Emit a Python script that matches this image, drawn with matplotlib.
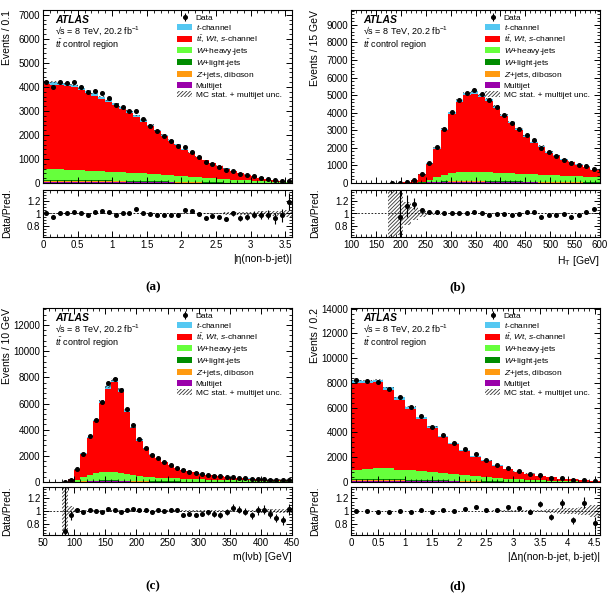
import numpy as np
import matplotlib.pyplot as plt
import matplotlib.patches as mpatches
from matplotlib.ticker import MultipleLocator, AutoMinorLocator, FormatStrFormatter

plt.rcParams['font.family'] = ['Liberation Sans', 'DejaVu Sans']
plt.rcParams['mathtext.fontset'] = 'custom'
plt.rcParams['mathtext.rm'] = 'Liberation Sans'
plt.rcParams['mathtext.it'] = 'Liberation Sans:italic'
plt.rcParams['mathtext.bf'] = 'Liberation Sans:bold'
plt.rcParams['hatch.linewidth'] = 0.6

# ---- (a) |eta(non-b-jet)|, 0.1 bins
edges_a = np.arange(0, 3.61, 0.1)
data_a = [4220, 3990, 4210, 4170, 4200, 4010, 3770, 3840, 3740, 3530, 3250, 3160, 3000, 3010,
          2650, 2390, 2160, 1960, 1760, 1560, 1505, 1310, 1090, 890, 805, 675, 555, 510, 390,
          325, 275, 220, 170, 120, 87, 71]
ratio_a = [1.00, 0.95, 1.01, 1.01, 1.03, 1.01, 0.98, 1.03, 1.04, 1.02, 0.98, 1.00, 1.00, 1.07,
           1.01, 0.99, 0.98, 0.98, 0.98, 0.97, 1.06, 1.04, 0.99, 0.92, 0.96, 0.94, 0.91, 1.00,
           0.93, 0.94, 0.98, 0.98, 0.98, 0.92, 0.97, 1.19]
unc_a = [0.01] * 24 + [0.012, 0.015, 0.02, 0.02, 0.025, 0.03, 0.03, 0.035, 0.04, 0.04, 0.045, 0.05]
tch_a = [105, 105, 104, 103, 102, 99, 96, 93, 90, 86, 83, 79, 75, 70, 66, 60, 55, 50, 45, 40,
         36, 31, 27, 24, 21, 18, 15, 13, 11, 9, 7, 6, 4, 3, 2, 2]
wheavy_a = [450, 445, 440, 430, 420, 410, 400, 390, 380, 370, 360, 350, 340, 330, 320, 305, 290,
            275, 260, 245, 230, 215, 200, 185, 170, 155, 140, 125, 110, 95, 80, 70, 60, 50, 40, 30]
wlight_a = [45, 45, 44, 44, 43, 42, 41, 40, 38, 37, 35, 34, 32, 30, 28, 26, 24, 22, 20, 18, 16,
            14, 12, 11, 9, 8, 7, 6, 5, 4, 3, 3, 2, 2, 1, 1]
zjets_a = [35, 35, 35, 34, 34, 33, 32, 31, 30, 29, 28, 27, 25, 24, 22, 21, 19, 17, 16, 14, 13,
           11, 10, 8, 7, 6, 5, 4, 4, 3, 2, 2, 2, 1, 1, 1]
multi_a = [50, 50, 49, 49, 48, 47, 45, 44, 42, 40, 38, 36, 34, 32, 30, 28, 26, 24, 22, 20, 18,
           16, 14, 12, 10, 9, 8, 7, 6, 5, 4, 3, 2, 2, 1, 1]

# ---- (b) H_T, 15 GeV bins
edges_b = np.arange(100, 611, 15)
data_b = [0, 0, 0, 0, 0, 0, 4, 40, 190, 530, 1140, 2050, 3080, 4030, 4750, 5130, 5320, 5060,
          4710, 4330, 3860, 3420, 3060, 2760, 2430, 2020, 1750, 1540, 1330, 1140, 1045, 950, 820, 760]
ratio_b = [np.nan] * 6 + [0.95, 1.12, 1.16, 1.05, 1.02, 1.02, 1.00, 1.00, 1.00, 1.00, 1.02, 1.01,
                          0.98, 0.99, 0.99, 0.98, 0.99, 1.02, 1.03, 0.95, 0.98, 0.98, 0.99, 0.94,
                          0.98, 1.02, 1.07, 1.00]
unc_b = [0, 0, 0, 0, 0, 1.0, 0.35, 0.18, 0.1, 0.05, 0.03, 0.02] + [0.01] * 18 + [0.012] * 4
tch_b = [0, 0, 0, 0, 0, 0, 0, 1, 5, 15, 30, 55, 80, 100, 115, 125, 130, 125, 118, 110, 100, 90,
         80, 72, 64, 56, 50, 44, 38, 34, 30, 27, 24, 22]
wheavy_b = [0, 0, 0, 0, 0, 0, 0, 3, 15, 40, 120, 230, 350, 450, 500, 510, 500, 490, 500, 480,
            470, 455, 440, 425, 410, 400, 385, 370, 355, 345, 335, 320, 310, 300]
wlight_b = [0, 0, 0, 0, 0, 0, 0, 0, 2, 6, 12, 20, 30, 38, 42, 44, 44, 43, 41, 39, 36, 33, 30, 28,
            26, 24, 22, 20, 18, 16, 15, 14, 13, 12]
zjets_b = [0, 0, 0, 0, 0, 0, 0, 0, 1, 4, 9, 15, 22, 28, 32, 34, 35, 34, 33, 31, 29, 27, 25, 23,
           21, 19, 17, 16, 15, 14, 13, 12, 11, 10]
multi_b = [0, 0, 0, 0, 0, 0, 1, 3, 8, 20, 35, 50, 60, 65, 65, 62, 58, 54, 50, 46, 42, 38, 35, 32,
           29, 26, 24, 22, 20, 18, 16, 15, 14, 13]

# ---- (c) m(lvb), 10 GeV bins
edges_c = np.arange(50, 451, 10)
data_c = [0, 0, 0, 1, 180, 970, 2170, 3500, 4770, 6120, 7530, 7910, 7020, 5610, 4340, 3320, 2630,
          2090, 1860, 1530, 1330, 1100, 890, 790, 710, 640, 540, 485, 430, 380, 360, 305, 280,
          255, 230, 205, 180, 170, 150, 140]
ratio_c = [np.nan] * 3 + [0.69, 0.93, 1.02, 0.98, 1.01, 1.00, 0.99, 1.03, 1.01, 0.99, 1.02, 1.03,
                          1.02, 1.02, 0.98, 1.01, 1.00, 1.02, 1.01, 0.94, 0.95, 0.94, 0.96, 0.98,
                          0.95, 0.94, 0.98, 1.05, 1.02, 0.99, 0.93, 1.01, 1.02, 0.96, 0.89, 0.85, 1.03]
unc_c = [0, 0, 0, 1.0, 0.08, 0.03] + [0.012] * 24 + [0.018, 0.02, 0.02, 0.022, 0.025, 0.025,
                                                    0.028, 0.03, 0.03, 0.03]
tch_c = [0, 0, 0, 0, 2, 15, 40, 70, 110, 150, 190, 200, 180, 140, 110, 85, 65, 52, 44, 38, 33,
         28, 24, 21, 19, 17, 15, 13, 12, 11, 10, 9, 8, 7, 7, 6, 6, 5, 5, 4]
wheavy_c = [0, 0, 0, 0, 20, 150, 330, 480, 580, 640, 660, 640, 590, 510, 440, 380, 340, 310, 290,
            270, 250, 230, 210, 195, 180, 170, 160, 150, 140, 130, 125, 120, 110, 100, 95, 90,
            85, 80, 75, 70]
wlight_c = [0, 0, 0, 0, 1, 6, 14, 22, 28, 32, 34, 33, 30, 26, 22, 19, 17, 15, 14, 13, 12, 11, 10,
            9, 8, 8, 7, 7, 6, 6, 5, 5, 5, 4, 4, 4, 4, 3, 3, 3]
zjets_c = [0, 0, 0, 0, 1, 5, 12, 18, 24, 28, 30, 29, 26, 22, 19, 16, 14, 12, 11, 10, 9, 9, 8, 8,
           7, 7, 6, 6, 5, 5, 5, 4, 4, 4, 4, 3, 3, 3, 3, 3]
multi_c = [0, 0, 0, 0, 3, 15, 35, 50, 60, 65, 65, 60, 52, 44, 38, 33, 29, 26, 24, 22, 20, 19, 18,
           17, 16, 15, 14, 13, 12, 11, 10, 10, 9, 9, 8, 8, 7, 7, 7, 6]

# ---- (d) |delta eta(non-b-jet, b-jet)|, 0.2 bins
edges_d = np.arange(0, 4.61, 0.2)
data_d = [8220, 8190, 8110, 7490, 6840, 6030, 5350, 4460, 3780, 3160, 2650, 2240, 1760, 1380,
          1135, 890, 675, 570, 350, 300, 190, 160, 80]
ratio_d = [1.00, 1.00, 0.98, 0.98, 1.00, 0.99, 1.02, 0.99, 1.02, 1.00, 1.03, 1.07, 1.01, 1.02,
           1.07, 1.05, 0.99, 1.11, 0.90, 1.12, 0.85, 1.13, 0.81]
unc_d = [0.006] * 13 + [0.008, 0.01, 0.012, 0.015, 0.02, 0.03, 0.04, 0.05, 0.06, 0.1]
tch_d = [190, 200, 205, 200, 185, 165, 145, 120, 100, 80, 65, 52, 40, 32, 25, 19, 14, 10, 7, 5, 4, 3, 2]
wheavy_d = [760, 830, 900, 870, 800, 750, 700, 660, 620, 570, 500, 430, 360, 290, 240, 190, 145,
            115, 80, 60, 40, 30, 20]
wlight_d = [80, 85, 85, 82, 76, 70, 63, 56, 48, 40, 33, 27, 21, 16, 12, 9, 7, 5, 4, 3, 2, 2, 1]
zjets_d = [60, 62, 62, 60, 56, 51, 46, 41, 36, 30, 25, 20, 16, 12, 9, 7, 5, 4, 3, 2, 2, 1, 1]
multi_d = [80, 82, 82, 80, 75, 69, 62, 55, 48, 41, 34, 28, 22, 17, 13, 10, 7, 5, 4, 3, 2, 1, 1]

colors = {'multi': '#9a00aa', 'zjets': '#ff9a10', 'wlight': '#008c00',
          'wheavy': '#66ff3c', 'ttbar': '#ff0000', 'tch': '#55c8f2'}
band_color = '#333333'
HATCH = '/////////'


def style_axis(ax):
    ax.tick_params(which='both', direction='in', top=True, right=True, labelsize=7, pad=2)
    ax.tick_params(which='major', length=4.5, width=0.7)
    ax.tick_params(which='minor', length=2.3, width=0.6)
    for s in ax.spines.values():
        s.set_linewidth(0.8)


def panel(rect_main, rect_ratio, edges, data, ratio, unc, tch, wheavy, wlight, zjets, multi,
          xlim, ymax, ymajor, xmajor, xlabel, ylabel, caption, cap_xy):
    edges = np.asarray(edges, float)
    centers = 0.5 * (edges[1:] + edges[:-1])
    data = np.asarray(data, float)
    ratio = np.asarray(ratio, float)
    unc = np.asarray(unc, float)
    tch, wheavy, wlight, zjets, multi = [np.asarray(v, float) for v in (tch, wheavy, wlight, zjets, multi)]
    mc = np.where(np.isfinite(ratio), data / ratio, 0.0)
    ttbar = np.clip(mc - (tch + wheavy + wlight + zjets + multi), 0, None)

    ax = fig.add_axes(rect_main)
    ax.hist([centers] * 6, bins=edges, weights=[multi, zjets, wlight, wheavy, ttbar, tch],
            stacked=True, histtype='stepfilled', linewidth=0,
            color=[colors['multi'], colors['zjets'], colors['wlight'], colors['wheavy'],
                   colors['ttbar'], colors['tch']])
    ax.stairs(mc * (1 + unc), edges, baseline=mc * (1 - unc), fill=True, hatch=HATCH,
              facecolor='none', edgecolor=band_color, linewidth=0)
    m = unc > 0
    eb = ax.errorbar(centers[m], data[m], yerr=np.sqrt(data[m]), fmt='o', color='k', ms=2.6,
                     elinewidth=0.8, capsize=0)
    ax.set_xlim(*xlim)
    ax.set_ylim(0, ymax)
    ax.xaxis.set_major_locator(MultipleLocator(xmajor))
    ax.xaxis.set_minor_locator(AutoMinorLocator(5))
    ax.yaxis.set_major_locator(MultipleLocator(ymajor))
    ax.yaxis.set_minor_locator(AutoMinorLocator(5))
    ax.tick_params(labelbottom=False)
    style_axis(ax)
    ax.set_ylabel(ylabel, fontsize=7.5, loc='top')
    ax.yaxis.set_label_coords(-0.125, 1.0)

    ax.text(0.048, 0.94, 'ATLAS', transform=ax.transAxes, fontsize=7.5, fontweight='bold',
            fontstyle='italic', va='center')
    ax.text(0.048, 0.878, '√s = 8 TeV, 20.2 fb$^{-1}$', transform=ax.transAxes,
            fontsize=6.5, va='center')
    ax.text(0.048, 0.802, r'$t\bar{t}$ control region', transform=ax.transAxes,
            fontsize=6.5, va='center')

    handles = [eb,
               mpatches.Patch(facecolor=colors['tch']),
               mpatches.Patch(facecolor=colors['ttbar']),
               mpatches.Patch(facecolor=colors['wheavy']),
               mpatches.Patch(facecolor=colors['wlight']),
               mpatches.Patch(facecolor=colors['zjets']),
               mpatches.Patch(facecolor=colors['multi']),
               mpatches.Patch(facecolor='white', hatch=HATCH, edgecolor=band_color, linewidth=0)]
    labels = ['Data', r'$t$-channel', r'$t\bar{t}$, $Wt$, $s$-channel', r'$W$+heavy-jets',
              r'$W$+light-jets', r'$Z$+jets, diboson', 'Multijet', 'MC stat. + multijet unc.']
    ax.legend(handles, labels, loc='upper left', bbox_to_anchor=(0.54, 0.975), frameon=False,
              fontsize=6, handlelength=1.7, handleheight=0.75, labelspacing=0.12,
              handletextpad=0.5, borderpad=0, borderaxespad=0)

    axr = fig.add_axes(rect_ratio)
    axr.stairs(1 + unc, edges, baseline=1 - unc, fill=True, hatch=HATCH, facecolor='none',
               edgecolor=band_color, linewidth=0)
    axr.axhline(1, color='k', ls=(0, (2, 2)), lw=0.6)
    r = (data > 0) & np.isfinite(ratio)
    axr.errorbar(centers[r], ratio[r], yerr=np.sqrt(data[r]) / mc[r], fmt='o', color='k', ms=2.6,
                 elinewidth=0.8, capsize=0)
    axr.set_xlim(*xlim)
    axr.set_ylim(0.62, 1.38)
    axr.xaxis.set_major_locator(MultipleLocator(xmajor))
    axr.xaxis.set_minor_locator(AutoMinorLocator(5))
    axr.yaxis.set_major_locator(MultipleLocator(0.2))
    axr.yaxis.set_minor_locator(AutoMinorLocator(4))
    axr.yaxis.set_major_formatter(FormatStrFormatter('%g'))
    axr.xaxis.set_major_formatter(FormatStrFormatter('%g'))
    style_axis(axr)
    axr.set_ylabel('Data/Pred.', fontsize=7.5)
    axr.yaxis.set_label_coords(-0.125, 0.5)
    axr.set_xlabel(xlabel, fontsize=7.5, loc='right', labelpad=3)

    fig.text(cap_xy[0], cap_xy[1], caption, family='Liberation Serif', fontweight='bold',
             fontsize=9.5, ha='center', va='center')


fig = plt.figure(figsize=(6.16, 5.95), dpi=100)

L1, L2, W = 43 / 616, 351 / 616, 249 / 616
top_main = [1 - 183 / 595, 173 / 595]
top_ratio = [1 - 237 / 595, 47 / 595]
bot_main = [1 - 482 / 595, 174 / 595]
bot_ratio = [1 - 535 / 595, 48 / 595]

panel([L1, top_main[0], W, top_main[1]], [L1, top_ratio[0], W, top_ratio[1]],
      edges_a, data_a, ratio_a, unc_a, tch_a, wheavy_a, wlight_a, zjets_a, multi_a,
      (0, 3.6), 7200, 1000, 0.5, '|η(non-b-jet)|', 'Events / 0.1', '(a)', (0.248, 1 - 287 / 595))
panel([L2, top_main[0], W, top_main[1]], [L2, top_ratio[0], W, top_ratio[1]],
      edges_b, data_b, ratio_b, unc_b, tch_b, wheavy_b, wlight_b, zjets_b, multi_b,
      (100, 600), 9850, 1000, 50, r'H$_\mathrm{T}$ [GeV]', 'Events / 15 GeV', '(b)',
      (0.742, 1 - 287 / 595))
panel([L1, bot_main[0], W, bot_main[1]], [L1, bot_ratio[0], W, bot_ratio[1]],
      edges_c, data_c, ratio_c, unc_c, tch_c, wheavy_c, wlight_c, zjets_c, multi_c,
      (50, 450), 13300, 2000, 50, 'm(lνb) [GeV]', 'Events / 10 GeV', '(c)', (0.248, 1 - 586 / 595))
panel([L2, bot_main[0], W, bot_main[1]], [L2, bot_ratio[0], W, bot_ratio[1]],
      edges_d, data_d, ratio_d, unc_d, tch_d, wheavy_d, wlight_d, zjets_d, multi_d,
      (0, 4.6), 14050, 2000, 0.5, '|Δη(non-b-jet, b-jet)|', 'Events / 0.2', '(d)',
      (0.742, 1 - 586 / 595))

fig.savefig('out.png', dpi=100)
